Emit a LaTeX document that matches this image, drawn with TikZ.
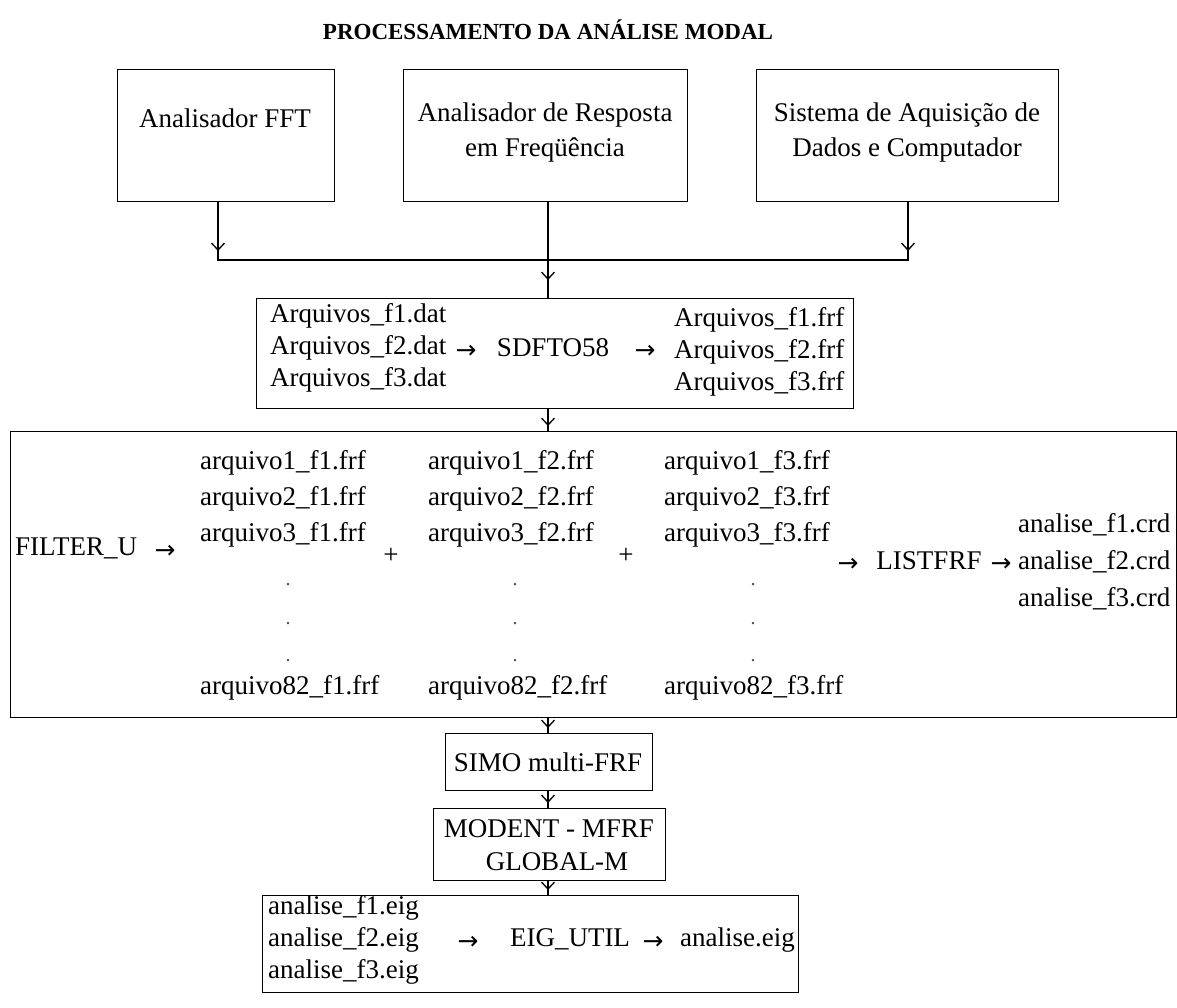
\documentclass[tikz,border=0pt]{standalone}
\usepackage{fontspec}
\setmainfont{Liberation Serif}
\newfontfamily\arrfont{DejaVu Sans}
\usetikzlibrary{arrows.meta,calc}
\begin{document}
\begin{tikzpicture}[x=1pt,y=-1pt,
  box/.style={draw, line width=1.3pt, inner sep=0, anchor=north west},
  txt/.style={font=\fontsize{27}{35}\selectfont, inner sep=0},
  arrtxt/.style={font=\arrfont\fontsize{25}{28}\selectfont, inner sep=0},
  dottxt/.style={font=\fontsize{20}{20}\selectfont, inner sep=0, text=black!70},
  conn/.style={line width=1.3pt},
  tip/.style={line width=1.3pt, -{Straight Barb[length=7pt,width=13pt]}},
]
\useasboundingbox (0,0) rectangle (1177,1008);

% title
\node[font=\bfseries\fontsize{23}{28}\selectfont, inner sep=0] (title) at (548,30) {PROCESSAMENTO DA ANÁLISE MODAL};

% top boxes
\node[box, minimum width=217pt, minimum height=132pt] (b1) at (117,69) {};
\node[box, minimum width=284pt, minimum height=132pt] (b2) at (403,69) {};
\node[box, minimum width=302pt, minimum height=132pt] (b3) at (756,69) {};
\node[txt] (t1) at (225,118) {Analisador FFT};
\node[txt, align=center] (t2) at (545,133) {Analisador de Resposta\\em Freqüência};
\node[txt, align=center] (t3) at (907,133) {Sistema de Aquisição de\\Dados e Computador};

% box 4
\node[box, minimum width=597pt, minimum height=110pt] (b4) at (256,298) {};
\foreach \i/\y in {1/320,2/352,3/384}
  \node[txt, anchor=mid west] (l\i) at (270,\y) {Arquivos\_f\i.dat};
\foreach \i/\y in {1/324,2/356,3/388}
  \node[txt, anchor=mid west] (r\i) at (674,\y) {Arquivos\_f\i.frf};
\node[arrtxt] (a41) at (466,352) {→};
\node[txt, anchor=mid] (sdf) at (553,354) {SDFTO58};
\node[arrtxt] (a42) at (645,352) {→};

% box 5
\node[box, minimum width=1166pt, minimum height=286pt] (b5) at (10,431) {};
\node[txt, anchor=mid west] (filt) at (15,553) {FILTER\_U};
\node[arrtxt] (a51) at (165,552) {→};
\foreach \c/\x/\d in {1/200/288,2/428/515,3/664/753} {
  \foreach \k/\y in {1/467,2/503,3/539}
    \node[txt, anchor=mid west] (c\c-\k) at (\x,\y) {arquivo\k\_f\c.frf};
  \node[txt, anchor=mid west] (c\c-82) at (\x,692) {arquivo82\_f\c.frf};
  \node[dottxt] (d\c-1) at (\d,585) {.};
  \node[dottxt] (d\c-2) at (\d,624) {.};
  \node[dottxt] (d\c-3) at (\d,661) {.};
}
\node[txt] (p1) at (391,556) {+};
\node[txt] (p2) at (626,556) {+};
\node[arrtxt] (a52) at (848,565) {→};
\node[txt, anchor=mid] (lst) at (929,567) {LISTFRF};
\node[arrtxt] (a53) at (1001,565) {→};
\foreach \i/\y in {1/530,2/567,3/604}
  \node[txt, anchor=mid west] (an\i) at (1018,\y) {analise\_f\i.crd};

% lower boxes
\node[box, minimum width=207pt, minimum height=57pt] (simo) at (445,733) {};
\node[txt] (simot) at (548,762) {SIMO multi-FRF};
\node[box, minimum width=232pt, minimum height=72pt] (mod) at (433,808) {};
\node[txt] (m1) at (549,829) {MODENT - MFRF};
\node[txt] (m2) at (557,862) {GLOBAL-M};

\node[box, minimum width=536pt, minimum height=97pt] (eig) at (262,895) {};
\foreach \i/\y in {1/912,2/944,3/976}
  \node[txt, anchor=mid west] (e\i) at (268,\y) {analise\_f\i.eig};
\node[arrtxt] (a61) at (468,943) {→};
\node[txt, anchor=mid] (eu) at (570,944) {EIG\_UTIL};
\node[arrtxt] (a62) at (653,943) {→};
\node[txt, anchor=mid west] (ae) at (680,944) {analise.eig};

% connectors
\coordinate (j1) at (218,260);
\coordinate (j2) at (548,260);
\coordinate (j3) at (908,260);
\draw[conn] (b1.south -| j1) -- (j1) -- (j3) -- (b3.south -| j3);
\draw[tip] (b1.south -| j1) -- ($(j1)+(0,-9)$);
\draw[tip] (b3.south -| j3) -- ($(j3)+(0,-9)$);
\draw[conn] (b2.south -| j2) -- (b4.north -| j2);
\draw[tip] (b2.south -| j2) -- ($(b4.north -| j2)+(0,-18)$);
\draw[conn] (b4.south -| j2) -- (b5.north -| j2);
\draw[tip] (b4.south -| j2) -- ($(b5.north -| j2)+(0,-5)$);
\draw[conn] (b5.south -| j2) -- (simo.north -| j2);
\draw[tip] (b5.south -| j2) -- ($(simo.north -| j2)+(0,-5)$);
\draw[conn] (simo.south -| j2) -- (mod.north -| j2);
\draw[tip] (simo.south -| j2) -- ($(mod.north -| j2)+(0,-5)$);
\draw[conn] (mod.south -| j2) -- (eig.north -| j2);
\draw[tip] (mod.south -| j2) -- ($(eig.north -| j2)+(0,-5)$);
\end{tikzpicture}
\end{document}
